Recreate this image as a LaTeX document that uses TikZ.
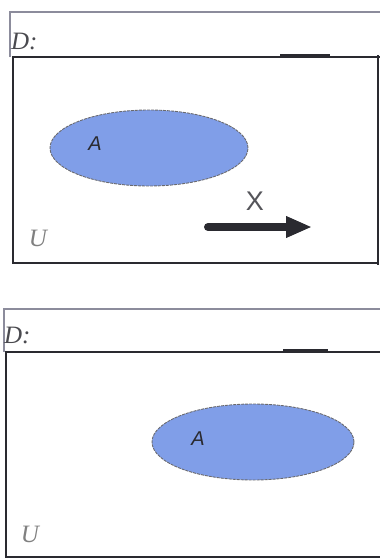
\documentclass[tikz,border=0pt]{standalone}
\usepackage{fontspec}
\newfontfamily\sansf{Liberation Sans}
\newfontfamily\seriff{Liberation Serif}
\usetikzlibrary{arrows.meta,shapes.geometric}
\definecolor{setblue}{HTML}{809EE8}
\definecolor{frameline}{HTML}{8C8C9C}
\definecolor{darkline}{HTML}{2A2A30}
\tikzset{
  x=1pt, y=-1pt,
  thinframe/.style={draw=frameline, line width=1.2pt},
  thickframe/.style={draw=darkline, line width=2.6pt},
  boldbar/.style={draw=darkline, line width=4pt},
  setA/.style={draw=darkline!70, fill=setblue, line width=0.9pt, dash pattern=on 3pt off 1pt},
  dlabel/.style={font=\seriff\fontsize{25}{25}\selectfont\itshape, text=darkline!85, inner sep=0pt, anchor=west},
  ulabel/.style={font=\seriff\fontsize{25}{25}\selectfont\itshape, text=gray, inner sep=0pt},
  alabel/.style={font=\sansf\fontsize{20}{20}\selectfont\itshape, text=darkline, inner sep=0pt},
  xlabel/.style={font=\sansf\fontsize{27}{27}\selectfont, text=darkline!80, inner sep=0pt},
}
\begin{document}
\begin{tikzpicture}
\useasboundingbox (0,0) rectangle (380,560);
% ---------- top panel ----------
\draw[thinframe] (10,57) -- (10,12) -- (380,12);
\node[dlabel] (d1) at (11,41) {D:};
\draw[thickframe] (12,57) -- (380,57);
\draw[boldbar] (280,56) -- (330,56);
\draw[thickframe] (13,56) -- (13,263) -- (379,263);
\draw[thickframe] (378,55) -- (378,265);
\node[setA, ellipse, minimum width=198pt, minimum height=76pt, inner sep=0pt] (e1) at (149,148) {};
\node[alabel] (a1) at (95,144) {A};
\node[xlabel] (x1) at (255,201) {X};
\coordinate (s1) at (208,227);
\coordinate (t1) at (312,227);
\draw[darkline, line width=8pt, line cap=round, -{Triangle[length=26pt,width=20pt]}] (s1) -- (t1);
\node[ulabel] (u1) at (38,238) {U};
% ---------- bottom panel ----------
\draw[thinframe] (4,352) -- (4,309) -- (380,309);
\node[dlabel] (d2) at (4,335) {D:};
\draw[thickframe] (5,352) -- (380,352);
\draw[boldbar] (283,351) -- (328,351);
\draw[thickframe] (6,351) -- (6,557) -- (380,557);
\node[setA, ellipse, minimum width=202pt, minimum height=76pt, inner sep=0pt] (e2) at (253,442) {};
\node[alabel] (a2) at (198,439) {A};
\node[ulabel] (u2) at (30,534) {U};
\end{tikzpicture}
\end{document}
